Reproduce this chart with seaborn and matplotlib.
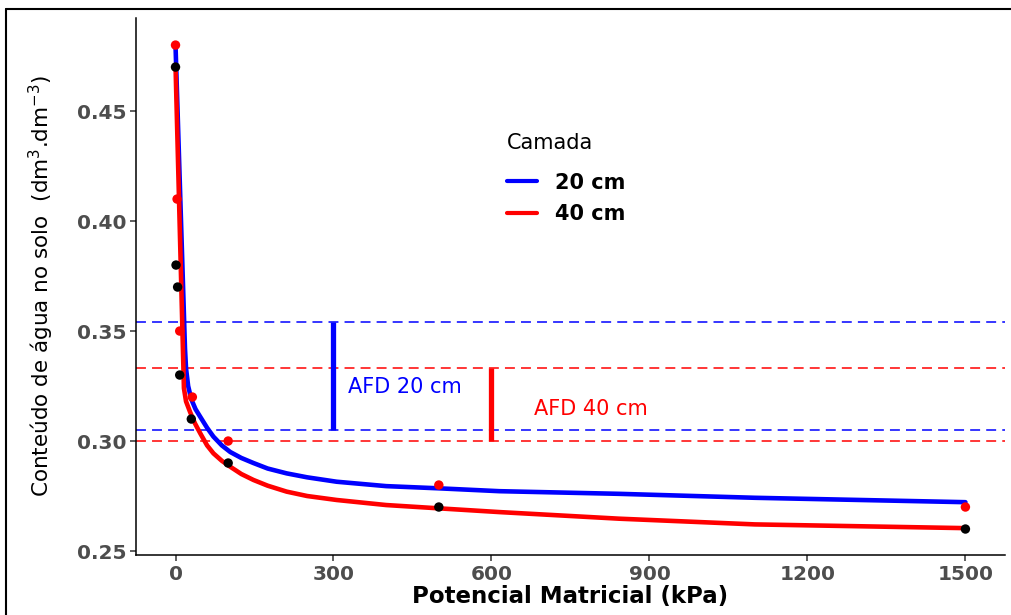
import numpy as np
import pandas as pd
import matplotlib
matplotlib.use("Agg")
import matplotlib.pyplot as plt
from matplotlib.lines import Line2D
import seaborn as sns

# ---------------- data ----------------
layers = ["20 cm", "40 cm"]
colors = {"20 cm": "#0000FF", "40 cm": "#FF0000"}

# fitted retention curves
curve20_x = [0, 18, 20, 24, 30, 38, 47, 60, 72, 88, 104, 125, 148, 175, 211, 250, 306, 400,
             500, 615, 842, 1100, 1500]
curve20_y = [0.480, 0.342, 0.333, 0.325, 0.319, 0.3145, 0.311, 0.306, 0.302, 0.298, 0.295,
             0.2923, 0.290, 0.2875, 0.2853, 0.2835, 0.2815, 0.2795, 0.2785, 0.2772, 0.2760,
             0.2742, 0.2722]
curve40_x = [0, 16, 20, 28, 37, 47, 60, 72, 88, 104, 125, 148, 175, 211, 250, 306, 400, 500,
             615, 842, 1100, 1500]
curve40_y = [0.471, 0.324, 0.318, 0.313, 0.308, 0.3035, 0.298, 0.2944, 0.291, 0.2883, 0.285,
             0.2823, 0.2797, 0.2770, 0.2750, 0.2732, 0.2709, 0.2694, 0.2677, 0.2647, 0.2621,
             0.2604]

# observed points
black_x = [0, 1, 4, 8, 30, 100, 500, 1500]
black_y = [0.47, 0.38, 0.37, 0.33, 0.31, 0.29, 0.27, 0.26]
red_x = [0, 3, 8, 32, 100, 500, 1500]
red_y = [0.48, 0.41, 0.35, 0.32, 0.30, 0.28, 0.27]

# field capacity / critical moisture levels
cc20, pm20 = 0.354, 0.305
cc40, pm40 = 0.333, 0.300
afd20_x, afd40_x = 300, 600

xticks = [0, 300, 600, 900, 1200, 1500]
yticks = [0.25, 0.30, 0.35, 0.40, 0.45]

# ---------------- build frames ----------------
curves = pd.DataFrame({
    "x": curve20_x + curve40_x,
    "y": curve20_y + curve40_y,
    "Camada": ["20 cm"] * len(curve20_x) + ["40 cm"] * len(curve40_x),
})
pts_black = pd.DataFrame({"x": black_x, "y": black_y})
pts_red = pd.DataFrame({"x": red_x, "y": red_y})

# ---------------- plot ----------------
sns.set_style("ticks")
plt.rcParams["font.family"] = ["DejaVu Sans"]
plt.rcParams["mathtext.fontset"] = "dejavusans"
plt.rcParams["text.color"] = "black"

fig = plt.figure(figsize=(10.12, 6.15), dpi=100)
ax = fig.add_axes([0.1344, 0.0976, 0.8586, 0.8731])

dash = (0, (6.5, 4))
ax.axhline(cc20, color="#0000FF", lw=1.1, ls=dash, zorder=1)
ax.axhline(pm20, color="#0000FF", lw=1.1, ls=dash, zorder=1)
ax.axhline(cc40, color="#FF0000", lw=1.1, ls=dash, zorder=1)
ax.axhline(pm40, color="#FF0000", lw=1.1, ls=dash, zorder=1)
ax.vlines(afd20_x, pm20, cc20, color="#0000FF", lw=3.8, zorder=2)
ax.vlines(afd40_x, pm40, cc40, color="#FF0000", lw=3.8, zorder=2)

sns.lineplot(data=curves, x="x", y="y", hue="Camada", palette=colors,
             estimator=None, sort=True, lw=3.3, ax=ax, zorder=3)
sns.scatterplot(data=pts_black, x="x", y="y", color="black", s=46,
                edgecolor="none", ax=ax, zorder=4, legend=False)
sns.scatterplot(data=pts_red, x="x", y="y", color="#FF0000", s=46,
                edgecolor="none", ax=ax, zorder=4, legend=False)

ax.text(327, 0.3245, "AFD 20 cm", color="#0000FF", fontsize=15, va="center", ha="left")
ax.text(680, 0.3145, "AFD 40 cm", color="#FF0000", fontsize=15, va="center", ha="left")

ax.set_xlim(-75, 1575)
ax.set_ylim(0.2482, 0.4923)
ax.set_xticks(xticks)
ax.set_yticks(yticks)
ax.set_xticklabels([str(v) for v in xticks])
ax.set_yticklabels([f"{v:.2f}" for v in yticks])
ax.tick_params(axis="both", length=4, width=1.1, color="#333333",
               labelsize=14.5, labelcolor="#4D4D4D", pad=3)
for lbl in ax.get_xticklabels() + ax.get_yticklabels():
    lbl.set_fontweight("bold")

for s in ["top", "right"]:
    ax.spines[s].set_visible(False)
for s in ["left", "bottom"]:
    ax.spines[s].set_linewidth(1.1)
    ax.spines[s].set_color("black")

ax.set_xlabel("Potencial Matricial (kPa)", fontsize=16.5, fontweight="bold",
              color="black", labelpad=1)
ax.set_ylabel(r"Conteúdo de água no solo  (dm$^3$.dm$^{-3}$)", fontsize=15.5,
              color="black", labelpad=15)

handles, labels = ax.get_legend_handles_labels()
leg = ax.legend(handles, labels, title="Camada", loc="upper left",
                bbox_to_anchor=(0.415, 0.805), frameon=False, borderpad=0,
                handlelength=1.45, handletextpad=0.85, labelspacing=0.55,
                prop={"size": 15, "weight": "bold"}, title_fontsize=15,
                alignment="left")
leg.get_title().set_color("black")
for t in leg.get_texts():
    t.set_color("black")
for ln in leg.get_lines():
    ln.set_linewidth(3.0)
leg._legend_box.sep = 14

# outer frame lines (top and left)
fig.add_artist(Line2D([0.0059, 1.0], [0.9846, 0.9846], transform=fig.transFigure,
                      color="black", lw=1.5))
fig.add_artist(Line2D([0.0059, 0.0059], [0.0, 0.9846], transform=fig.transFigure,
                      color="black", lw=1.5))

fig.savefig("out.png", dpi=100)
